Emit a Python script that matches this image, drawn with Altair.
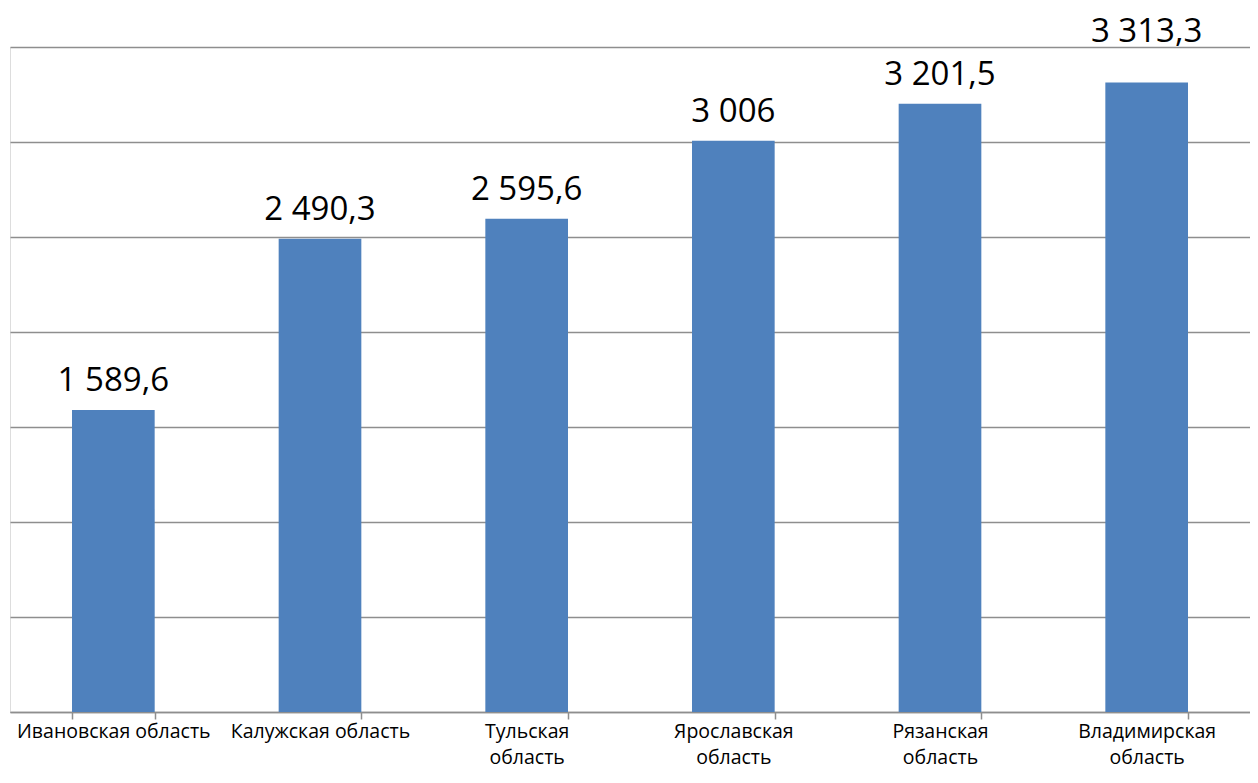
import altair as alt
import pandas as pd

regions = [
    "Ивановская область",
    "Калужская область",
    "Тульская область",
    "Ярославская область",
    "Рязанская область",
    "Владимирская область",
]
values = [1589.6, 2490.3, 2595.6, 3006, 3201.5, 3313.3]

df = pd.DataFrame({"region": regions, "value": values})

FONT = "Open Sans"
BAR = "#4F81BD"
GRID = "#8e8e8e"

x = alt.X(
    "region:N",
    sort=regions,
    title=None,
    scale=alt.Scale(paddingInner=0.6, paddingOuter=0.3),
    axis=alt.Axis(
        labelAngle=0,
        labelFont=FONT,
        labelFontSize=19.5,
        labelColor="#000000",
        labelLineHeight=26,
        labelPadding=3,
        labelBaseline="top",
        labelLimit=400,
        labelOverlap=False,
        labelExpr="(datum.label == 'Ивановская область' || datum.label == 'Калужская область') ? datum.label : split(datum.label, ' ')",
        tickBand="extent",
        tickSize=7,
        tickColor=GRID,
        tickWidth=1.5,
        domainColor=GRID,
        domainWidth=1.5,
        grid=False,
    ),
)
y = alt.Y(
    "value:Q",
    title=None,
    scale=alt.Scale(domain=[0, 3500], nice=False),
    axis=alt.Axis(
        values=[0, 500, 1000, 1500, 2000, 2500, 3000, 3500],
        labels=False,
        ticks=False,
        domain=False,
        grid=True,
        gridColor=GRID,
        gridWidth=1.5,
    ),
)

base = alt.Chart(df)
bars = base.mark_bar(color=BAR).encode(x=x, y=y)

text_style = dict(font=FONT, fontSize=33, color="#000000", baseline="alphabetic", align="center")
labels = base.mark_text(dy=-19, **text_style).encode(
    x=alt.X("region:N", sort=regions),
    y="value:Q",
    text=alt.Text("value:Q", format=",.1~f"),
).transform_filter("datum.region != 'Владимирская область'")
label_last = base.mark_text(dy=-40, **text_style).encode(
    x=alt.X("region:N", sort=regions),
    y="value:Q",
    text=alt.Text("value:Q", format=",.1~f"),
).transform_filter("datum.region == 'Владимирская область'")

chart = (
    alt.layer(bars, labels, label_last)
    .properties(
        width=1240,
        height=665,
        autosize=alt.AutoSizeParams(type="none"),
        padding={"left": 2, "top": 39, "right": 0, "bottom": 62},
    )
    .configure_view(stroke=None)
    .configure(locale={"number": {"decimal": ",", "thousands": " ", "grouping": [3], "currency": ["", ""]}})
)

chart.save("out.html", embed_options={"renderer": "svg", "actions": False})
